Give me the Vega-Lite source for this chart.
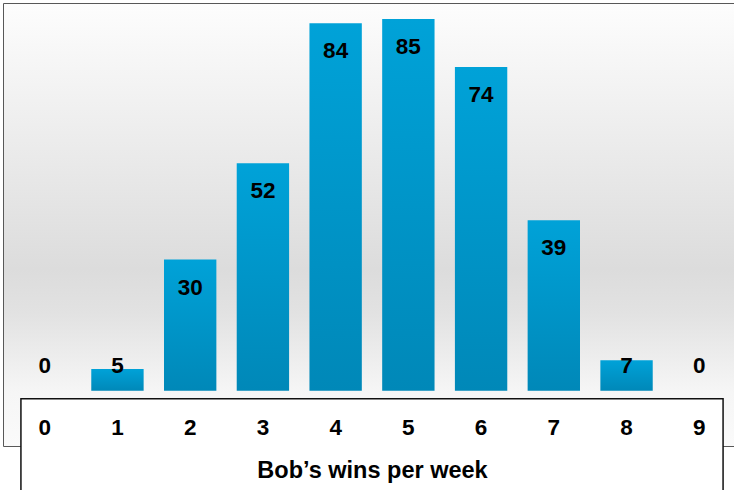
{
  "$schema": "https://vega.github.io/schema/vega-lite/v6.json",
  "width": 736,
  "height": 442,
  "padding": {"left": 4, "top": 4, "right": 0, "bottom": 0},
  "autosize": {"type": "pad"},
  "config": {
    "font": "Liberation Sans",
    "view": {"stroke": "#222222", "strokeWidth": 1.5}
  },
  "data": {
    "values": [
      {"wins": "0", "count": 0},
      {"wins": "1", "count": 5},
      {"wins": "2", "count": 30},
      {"wins": "3", "count": 52},
      {"wins": "4", "count": 84},
      {"wins": "5", "count": 85},
      {"wins": "6", "count": 74},
      {"wins": "7", "count": 39},
      {"wins": "8", "count": 7},
      {"wins": "9", "count": 0}
    ]
  },
  "resolve": {"scale": {"x": "independent"}, "axis": {"x": "independent"}},
  "layer": [
    {
      "data": {"values": [{"part": "background"}]},
      "mark": {
        "type": "rect",
        "fill": {
          "gradient": "linear",
          "x1": 0, "y1": 0, "x2": 0, "y2": 1,
          "stops": [
            {"offset": 0, "color": "#fdfdfd"},
            {"offset": 0.6, "color": "#dcdcdc"},
            {"offset": 0.7, "color": "#e2e2e2"},
            {"offset": 0.88, "color": "#f6f6f6"},
            {"offset": 1, "color": "#fafafa"}
          ]
        }
      },
      "encoding": {
        "y": {"datum": 88.4, "type": "quantitative", "scale": {"domain": [-12.6, 88.4], "nice": false, "zero": false}, "axis": null},
        "y2": {"datum": -12.6}
      }
    },
    {
      "data": {"values": [{"part": "axis"}]},
      "mark": {"type": "rect", "fill": "white", "stroke": "#111111", "strokeWidth": 1.5},
      "encoding": {
        "x": {"datum": 0.023, "type": "quantitative", "scale": {"domain": [0, 1], "nice": false, "zero": false}, "axis": null},
        "x2": {"datum": 0.977},
        "y": {"datum": -1.8, "type": "quantitative"},
        "y2": {"datum": -26}
      }
    },
    {
      "layer": [
        {
          "mark": {
            "type": "bar",
            "fill": {
              "gradient": "linear",
              "x1": 0, "y1": 0, "x2": 0, "y2": 1,
              "stops": [
                {"offset": 0, "color": "#00a2d8"},
                {"offset": 1, "color": "#0088b8"}
              ]
            }
          },
          "encoding": {
            "x": {
              "field": "wins",
              "type": "nominal",
              "scale": {"paddingInner": 0.28, "paddingOuter": 0.2},
              "axis": {
                "title": "Bob’s wins per week",
                "labelAngle": 0,
                "domain": false,
                "ticks": false,
                "tickSize": 0,
                "grid": false,
                "labelPadding": 35,
                "labelBaseline": "alphabetic",
                "labelFontSize": 22.5,
                "labelFontWeight": "bold",
                "labelColor": "#000000",
                "titleFontSize": 23.5,
                "titleFontWeight": "bold",
                "titleColor": "#000000",
                "titleY": 78,
                "titleBaseline": "alphabetic",
                "offset": -47,
                "zindex": 1
              }
            },
            "y": {"field": "count", "type": "quantitative"},
            "y2": {"datum": 0}
          }
        },
        {
          "transform": [{"filter": "datum.count >= 12"}],
          "mark": {"type": "text", "baseline": "alphabetic", "dy": 35, "fontSize": 22.5, "fontWeight": "bold", "color": "#000000"},
          "encoding": {
            "x": {"field": "wins", "type": "nominal"},
            "y": {"field": "count", "type": "quantitative"},
            "text": {"field": "count", "type": "quantitative"}
          }
        },
        {
          "transform": [{"filter": "datum.count < 12"}],
          "mark": {"type": "text", "baseline": "alphabetic", "dy": -18, "fontSize": 22.5, "fontWeight": "bold", "color": "#000000"},
          "encoding": {
            "x": {"field": "wins", "type": "nominal"},
            "y": {"datum": 0, "type": "quantitative"},
            "text": {"field": "count", "type": "quantitative"}
          }
        }
      ]
    }
  ]
}
